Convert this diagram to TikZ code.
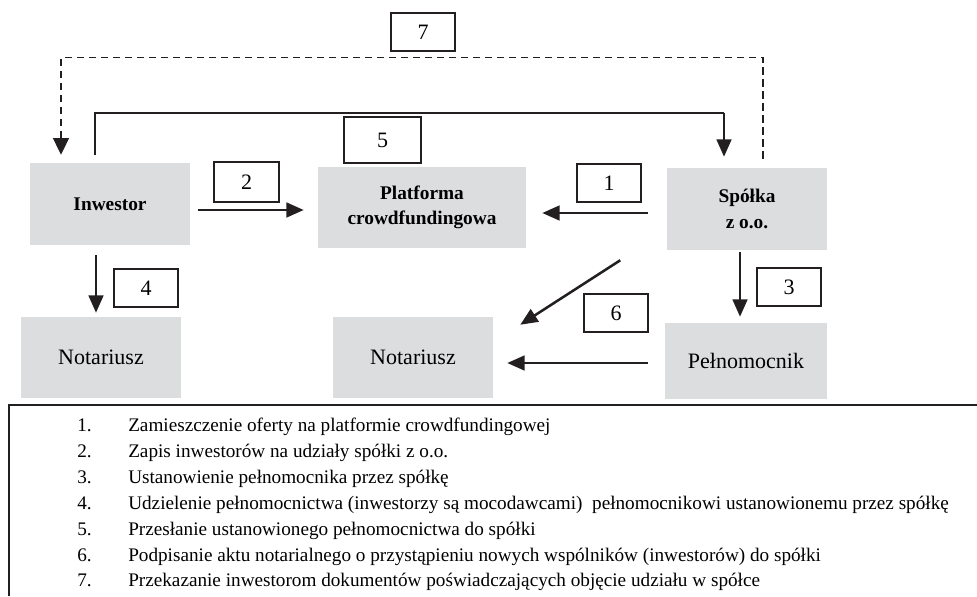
\documentclass[tikz,border=0pt]{standalone}
\usepackage{fontspec}
\setmainfont{Liberation Serif}
\usetikzlibrary{arrows.meta, positioning}
\definecolor{diaggray}{RGB}{220, 221, 223}
\definecolor{diagdark}{RGB}{35, 31, 32}
\tikzset{
  box/.style={fill=diaggray, minimum width=120pt, minimum height=61.5pt, inner sep=0pt, align=center, font=\fontsize{16.5pt}{20pt}\selectfont},
  bbox/.style={box, font=\fontsize{14.5pt}{19pt}\selectfont\bfseries},
  numbox/.style={draw=diagdark, line width=0.8pt, fill=white, minimum width=48pt, minimum height=28.5pt, inner sep=0pt, font=\fontsize{16.5pt}{20pt}\selectfont},
  arr/.style={-{Triangle[length=13pt, width=11pt]}, line width=1.9pt, diagdark},
  dasharr/.style={-{Triangle[length=12.5pt, width=12pt]}, line width=0.9pt, dash pattern=on 5.5pt off 3.5pt, diagdark},
  ln/.style={line width=0.9pt, diagdark},
  legend/.style={align=left, inner sep=0pt, font=\fontsize{14.4pt}{19.4pt}\selectfont}
}
\begin{document}
\begin{tikzpicture}[x=0.75pt, y=-0.75pt]
                \useasboundingbox (0,0) rectangle (977,596);
                % uczestnicy
                \node[bbox] (inw) at (110,204) {Inwestor};
                \node[bbox, minimum width=156pt, minimum height=60.75pt] (plat) at (422,207.5) {Platforma\\crowdfundingowa};
                \node[bbox] (spolka) at (747,209) {Spółka\\z o.o.};
                \node[box, minimum height=60.75pt] (not1) at (101,357.5) {Notariusz};
                \node[box, minimum height=60.75pt] (not2) at (413,357.5) {Notariusz};
                \node[box, minimum width=121.5pt, minimum height=57pt] (peln) at (746,361) {Pełnomocnik};
                % numery krokow
                \node[numbox] (n7) at (423,32) {7};
                \node[numbox, minimum width=57.75pt, minimum height=34.5pt] (n5) at (382.5,140) {5};
                \node[numbox, minimum width=48.75pt, minimum height=30pt] (n2) at (246.5,182) {2};
                \node[numbox] (n1) at (609,183) {1};
                \node[numbox] (n4) at (146,288) {4};
                \node[numbox] (n3) at (789,287) {3};
                \node[numbox] (n6) at (616,313) {6};
                % strzalki
                \draw[dasharr] ([xshift=12pt, yshift=6.75pt]spolka.north) -- ++(0,-101) -| ([xshift=-36.75pt, yshift=6pt]inw.north);
                \coordinate (c5) at (724,113);
                \draw[ln] ([xshift=-11.25pt, yshift=6pt]inw.north) |- (c5);
                \draw[arr] (c5) -- ([xshift=-17.25pt, yshift=8.25pt]spolka.north);
                \draw[arr, shorten <=6pt, shorten >=10.5pt] ([yshift=-4.5pt]inw.east) -- ([yshift=-4.5pt]inw.east -| plat.west);
                \draw[arr, shorten <=14.25pt, shorten >=12pt] ([yshift=-3pt]spolka.west) -- ([yshift=-3pt]spolka.west -| plat.east);
                \draw[arr, shorten <=7.5pt, shorten >=3pt] ([xshift=-10.5pt]inw.south) -- ([xshift=-10.5pt]inw.south |- not1.north);
                \draw[arr, shorten <=1.5pt, shorten >=4.5pt] ([xshift=-5.25pt]spolka.south) -- ([xshift=-5.25pt]spolka.south |- peln.north);
                \draw[arr] ([xshift=70.5pt, yshift=-9pt]plat.south east) -- ([xshift=20.25pt, yshift=-6pt]not2.north east);
                \draw[arr, shorten <=12.75pt, shorten >=10.5pt] ([yshift=-1.5pt]peln.west) -- ([yshift=-1.5pt]peln.west -| not2.east);
                % legenda
                \draw[ln] (9,596) -- (9,405) -- (977,405);
                \node[legend, anchor=north west] (leg) at (77,418) {%
                  \makebox[38.25pt][l]{1.}Zamieszczenie oferty na platformie crowdfundingowej\\
                  \makebox[38.25pt][l]{2.}Zapis inwestorów na udziały spółki z o.o.\\
                  \makebox[38.25pt][l]{3.}Ustanowienie pełnomocnika przez spółkę\\
                  \makebox[38.25pt][l]{4.}Udzielenie pełnomocnictwa (inwestorzy są mocodawcami)~ pełnomocnikowi ustanowionemu przez spółkę\\
                  \makebox[38.25pt][l]{5.}Przesłanie ustanowionego pełnomocnictwa do spółki\\
                  \makebox[38.25pt][l]{6.}Podpisanie aktu notarialnego o przystąpieniu nowych wspólników (inwestorów) do spółki\\
                  \makebox[38.25pt][l]{7.}Przekazanie inwestorom dokumentów poświadczających objęcie udziału w spółce};
            \end{tikzpicture}
\end{document}
